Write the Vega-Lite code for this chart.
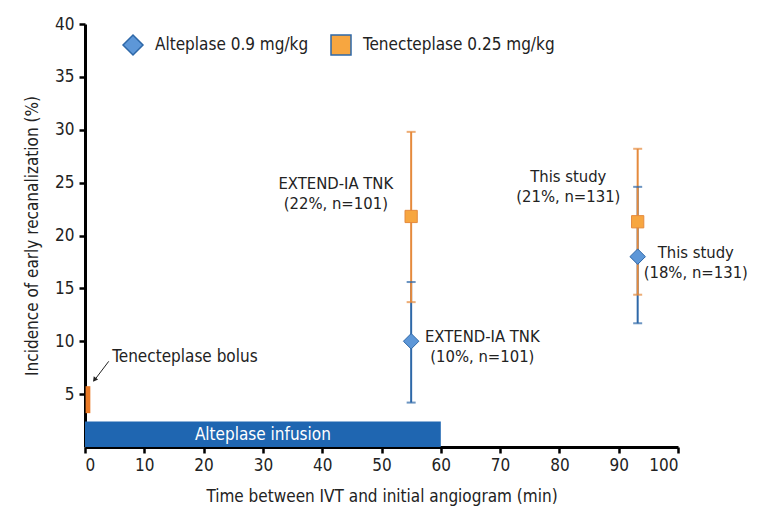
{
  "$schema": "https://vega.github.io/schema/vega-lite/v6.json",
  "width": 593,
  "height": 423,
  "autosize": {"type": "none"},
  "padding": {"left": 85, "top": 24, "right": 86, "bottom": 73},
  "background": "white",
  "config": {
    "font": "Liberation Sans Narrow, DejaVu Sans Condensed, sans-serif",
    "view": {"stroke": null},
    "axis": {
      "domainColor": "black", "domainWidth": 3, "tickColor": "black", "tickWidth": 2.5, "tickSize": 6,
      "grid": false, "labelFontSize": 17, "labelColor": "#222", "titleFontSize": 17,
      "titleFontWeight": "normal", "titleColor": "#222"
    }
  },
  "datasets": {
    "points": [
      {"study": "EXTEND-IA TNK", "drug": "Alteplase 0.9 mg/kg", "time": 55, "rate": 10, "lo": 4.2, "hi": 15.6},
      {"study": "This study", "drug": "Alteplase 0.9 mg/kg", "time": 93.2, "rate": 18, "lo": 11.7, "hi": 24.6},
      {"study": "EXTEND-IA TNK", "drug": "Tenecteplase 0.25 mg/kg", "time": 55, "rate": 21.8, "lo": 13.7, "hi": 29.8},
      {"study": "This study", "drug": "Tenecteplase 0.25 mg/kg", "time": 93.2, "rate": 21.3, "lo": 14.4, "hi": 28.2}
    ],
    "labels": [
      {"label": "EXTEND-IA TNK\n(22%, n=101)", "time": 42.3, "rate": 24.9},
      {"label": "This study\n(21%, n=131)", "time": 81.5, "rate": 25.5},
      {"label": "This study\n(18%, n=131)", "time": 103, "rate": 18.3},
      {"label": "EXTEND-IA TNK\n(10%, n=101)", "time": 67, "rate": 10.4}
    ]
  },
  "layer": [
    {
      "data": {"values": [{"name": "Alteplase infusion", "start": 0, "end": 60, "lo": 0, "hi": 2.4}]},
      "mark": {"type": "rect", "color": "#1f66b1"},
      "encoding": {
        "x": {"field": "start", "type": "quantitative", "scale": {"domain": [0, 100], "nice": false},
          "axis": {"values": [0,10,20,30,40,50,60,70,80,90,100], "title": "Time between IVT and initial angiogram (min)", "labelPadding": 4, "titlePadding": 15}},
        "x2": {"field": "end"},
        "y": {"field": "lo", "type": "quantitative", "scale": {"domain": [0, 40], "nice": false},
          "axis": {"values": [5,10,15,20,25,30,35,40], "title": "Incidence of early recanalization (%)", "labelPadding": 5, "titlePadding": 13}},
        "y2": {"field": "hi"}
      }
    },
    {
      "data": {"values": [{"name": "Alteplase infusion", "time": 30, "rate": 1.1}]},
      "mark": {"type": "text", "color": "white", "fontSize": 17, "align": "center", "baseline": "middle"},
      "encoding": {
        "x": {"field": "time", "type": "quantitative"},
        "y": {"field": "rate", "type": "quantitative"},
        "text": {"field": "name"}
      }
    },
    {
      "data": {"values": [{"name": "Tenecteplase bolus", "start": 0.1, "end": 0.9, "lo": 3.2, "hi": 5.75}]},
      "mark": {"type": "rect", "color": "#ea7a26"},
      "encoding": {
        "x": {"field": "start", "type": "quantitative"},
        "x2": {"field": "end"},
        "y": {"field": "lo", "type": "quantitative"},
        "y2": {"field": "hi"}
      }
    },
    {
      "data": {"values": [{"x1": 4.0, "y1": 8.1, "x2": 1.5, "y2": 6.25}]},
      "mark": {"type": "rule", "color": "#222", "strokeWidth": 1},
      "encoding": {
        "x": {"field": "x1", "type": "quantitative"},
        "y": {"field": "y1", "type": "quantitative"},
        "x2": {"field": "x2"},
        "y2": {"field": "y2"}
      }
    },
    {
      "data": {"values": [{"x": 1.6, "y": 6.35}]},
      "mark": {"type": "point", "shape": "triangle-up", "filled": true, "color": "#222", "size": 30, "angle": 217, "opacity": 1},
      "encoding": {
        "x": {"field": "x", "type": "quantitative"},
        "y": {"field": "y", "type": "quantitative"}
      }
    },
    {
      "data": {"values": [{"label": "Tenecteplase bolus", "time": 4.6, "rate": 8.5}]},
      "mark": {"type": "text", "fontSize": 17, "align": "left", "baseline": "middle", "color": "#222"},
      "encoding": {
        "x": {"field": "time", "type": "quantitative"},
        "y": {"field": "rate", "type": "quantitative"},
        "text": {"field": "label"}
      }
    },
    {
      "data": {"name": "points"},
      "mark": {"type": "rule", "strokeWidth": 2},
      "encoding": {
        "x": {"field": "time", "type": "quantitative"},
        "y": {"field": "lo", "type": "quantitative"},
        "y2": {"field": "hi"},
        "stroke": {"field": "drug", "type": "nominal", "scale": {"domain": ["Tenecteplase 0.25 mg/kg", "Alteplase 0.9 mg/kg"], "range": ["#e58a3c", "#2e68a8"]}, "legend": null}
      }
    },
    {
      "data": {"name": "points"},
      "mark": {"type": "tick", "orient": "horizontal", "filled": false, "thickness": 0.01, "size": 7, "strokeWidth": 2},
      "encoding": {
        "x": {"field": "time", "type": "quantitative"},
        "y": {"field": "lo", "type": "quantitative"},
        "stroke": {"field": "drug", "type": "nominal", "legend": null}
      }
    },
    {
      "data": {"name": "points"},
      "mark": {"type": "tick", "orient": "horizontal", "filled": false, "thickness": 0.01, "size": 7, "strokeWidth": 2},
      "encoding": {
        "x": {"field": "time", "type": "quantitative"},
        "y": {"field": "hi", "type": "quantitative"},
        "stroke": {"field": "drug", "type": "nominal", "legend": null}
      }
    },
    {
      "data": {"name": "points"},
      "transform": [{"filter": "datum.drug === 'Alteplase 0.9 mg/kg'"}],
      "mark": {"type": "point", "filled": true, "opacity": 1, "strokeWidth": 1, "stroke": "#2e68a8", "size": 240},
      "encoding": {
        "x": {"field": "time", "type": "quantitative"},
        "y": {"field": "rate", "type": "quantitative"},
        "shape": {"field": "drug", "type": "nominal", "scale": {"domain": ["Alteplase 0.9 mg/kg", "Tenecteplase 0.25 mg/kg"], "range": ["diamond", "square"]},
          "legend": {"title": null, "orient": "none", "legendX": 37, "legendY": 10, "direction": "horizontal", "labelFontSize": 17, "labelColor": "#222", "labelLimit": 0, "symbolSize": 400, "labelOffset": 11, "columnPadding": 19,
            "encode": {"symbols": {
              "shape": {"value": {"expr": "datum.value === 'Alteplase 0.9 mg/kg' ? 'M-1.5,0H1.5M-0.72,0L0,-0.72L0.72,0L0,0.72Z' : 'M-0.55,-0.55H0.55V0.55H-0.55Z'"}},
              "stroke": {"value": {"expr": "datum.value === 'Alteplase 0.9 mg/kg' ? '#2e68a8' : '#e58a3c'"}},
              "strokeWidth": {"value": 1.5}
            }}}},
        "fill": {"field": "drug", "type": "nominal", "scale": {"domain": ["Alteplase 0.9 mg/kg", "Tenecteplase 0.25 mg/kg"], "range": ["#5d97d8", "#f7a640"]},
          "legend": {"title": null, "orient": "none", "legendX": 37, "legendY": 10, "direction": "horizontal", "labelFontSize": 17, "labelColor": "#222", "labelLimit": 0, "symbolSize": 400, "labelOffset": 11, "columnPadding": 19,
            "encode": {"symbols": {
              "shape": {"value": {"expr": "datum.value === 'Alteplase 0.9 mg/kg' ? 'M-1.5,0H1.5M-0.72,0L0,-0.72L0.72,0L0,0.72Z' : 'M-0.55,-0.55H0.55V0.55H-0.55Z'"}},
              "stroke": {"value": {"expr": "datum.value === 'Alteplase 0.9 mg/kg' ? '#2e68a8' : '#e58a3c'"}},
              "strokeWidth": {"value": 1.5}
            }}}}
      }
    },
    {
      "data": {"name": "points"},
      "transform": [{"filter": "datum.drug === 'Tenecteplase 0.25 mg/kg'"}],
      "mark": {"type": "point", "filled": true, "opacity": 1, "strokeWidth": 1, "stroke": "#e58a3c", "size": 150},
      "encoding": {
        "x": {"field": "time", "type": "quantitative"},
        "y": {"field": "rate", "type": "quantitative"},
        "shape": {"field": "drug", "type": "nominal",
          "legend": {"title": null, "orient": "none", "legendX": 37, "legendY": 10, "direction": "horizontal", "labelFontSize": 17, "labelColor": "#222", "labelLimit": 0, "symbolSize": 400, "labelOffset": 11, "columnPadding": 19,
            "encode": {"symbols": {
              "shape": {"value": {"expr": "datum.value === 'Alteplase 0.9 mg/kg' ? 'M-1.5,0H1.5M-0.72,0L0,-0.72L0.72,0L0,0.72Z' : 'M-0.55,-0.55H0.55V0.55H-0.55Z'"}},
              "stroke": {"value": {"expr": "datum.value === 'Alteplase 0.9 mg/kg' ? '#2e68a8' : '#e58a3c'"}},
              "strokeWidth": {"value": 1.5}
            }}}},
        "fill": {"field": "drug", "type": "nominal",
          "legend": {"title": null, "orient": "none", "legendX": 37, "legendY": 10, "direction": "horizontal", "labelFontSize": 17, "labelColor": "#222", "labelLimit": 0, "symbolSize": 400, "labelOffset": 11, "columnPadding": 19,
            "encode": {"symbols": {
              "shape": {"value": {"expr": "datum.value === 'Alteplase 0.9 mg/kg' ? 'M-1.5,0H1.5M-0.72,0L0,-0.72L0.72,0L0,0.72Z' : 'M-0.55,-0.55H0.55V0.55H-0.55Z'"}},
              "stroke": {"value": {"expr": "datum.value === 'Alteplase 0.9 mg/kg' ? '#2e68a8' : '#e58a3c'"}},
              "strokeWidth": {"value": 1.5}
            }}}}
      }
    },
    {
      "data": {"name": "labels"},
      "mark": {"type": "text", "fontSize": 16.5, "align": "center", "baseline": "middle", "lineBreak": "\n", "lineHeight": 20, "color": "#222"},
      "encoding": {
        "x": {"field": "time", "type": "quantitative"},
        "y": {"field": "rate", "type": "quantitative"},
        "text": {"field": "label"}
      }
    }
  ]
}
